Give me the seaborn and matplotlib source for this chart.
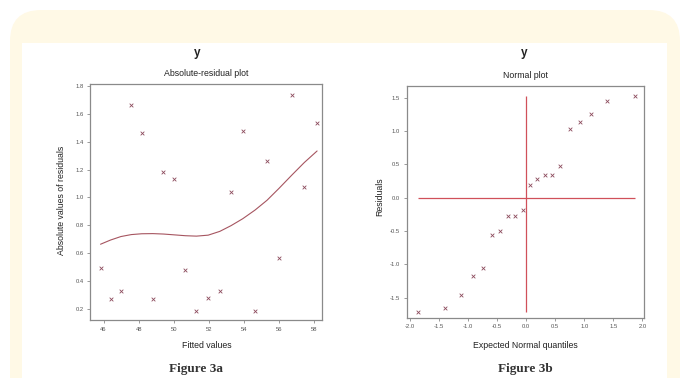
import matplotlib
matplotlib.use("Agg")
import matplotlib.pyplot as plt
import seaborn as sns
import pandas as pd
from matplotlib.patches import FancyBboxPatch, Rectangle

# ---- data ----
fitted = [45.83, 46.40, 46.99, 47.58, 48.18, 48.81, 49.41, 50.04, 50.66, 51.29,
          51.96, 52.62, 53.26, 53.93, 54.63, 55.31, 55.99, 56.72, 57.43, 58.16]
abs_resid = [0.498, 0.272, 0.331, 1.665, 1.462, 0.276, 1.185, 1.135, 0.483, 0.186,
             0.279, 0.333, 1.038, 1.478, 0.188, 1.264, 0.565, 1.736, 1.073, 1.531]
smooth = [0.665, 0.695, 0.720, 0.734, 0.740, 0.741, 0.738, 0.732, 0.726, 0.723,
          0.730, 0.757, 0.798, 0.848, 0.910, 0.980, 1.065, 1.160, 1.250, 1.333]

quantiles = [-1.87, -1.40, -1.12, -0.92, -0.75, -0.59, -0.45, -0.32, -0.19, -0.06,
             0.06, 0.19, 0.32, 0.45, 0.59, 0.75, 0.92, 1.12, 1.40, 1.87]
residuals = [-1.72, -1.65, -1.46, -1.17, -1.06, -0.555, -0.495, -0.27, -0.27, -0.18,
             0.19, 0.28, 0.34, 0.34, 0.48, 1.03, 1.13, 1.26, 1.45, 1.52]

left_xticks = [46, 48, 50, 52, 54, 56, 58]
left_yticks = [0.2, 0.4, 0.6, 0.8, 1.0, 1.2, 1.4, 1.6, 1.8]
right_xticks = [-2.0, -1.5, -1.0, -0.5, 0.0, 0.5, 1.0, 1.5, 2.0]
right_yticks = [-1.5, -1.0, -0.5, 0.0, 0.5, 1.0, 1.5]

df_a = pd.DataFrame({"fitted": fitted, "absres": abs_resid, "smooth": smooth})
df_b = pd.DataFrame({"q": quantiles, "r": residuals})

sns.set_theme(style="white")
plt.rcParams["font.family"] = ["Liberation Sans", "DejaVu Sans"]

W, H = 690, 378
fig = plt.figure(figsize=(W / 100, H / 100), dpi=100)
fig.patch.set_facecolor("white")

# cream rounded background and white inner panel
cream = "#FFF9E6"
fig.patches.append(FancyBboxPatch((10 / W, -0.2), 670 / W, 1.2 - 10 / H,
                                  boxstyle="round,pad=0,rounding_size=0.045",
                                  transform=fig.transFigure, facecolor=cream,
                                  edgecolor="none", zorder=-10,
                                  mutation_aspect=W / H))
fig.patches.append(Rectangle((22 / W, 0), (667 - 22) / W, 1 - 43 / H,
                             transform=fig.transFigure, facecolor="white",
                             edgecolor="none", zorder=-9))

def fx(px):
    return px / W

def fy(py):
    return 1 - py / H

ax1 = fig.add_axes([fx(90), fy(320.3), fx(322) - fx(90), fy(83.7) - fy(320.3)])
ax2 = fig.add_axes([fx(406.5), fy(317.7), fx(643.5) - fx(406.5), fy(85.7) - fy(317.7)])

mcol = "#8C4A5C"
sns.scatterplot(data=df_a, x="fitted", y="absres", marker="x", s=7, color=mcol,
                linewidth=0.6, ax=ax1, zorder=3)
sns.lineplot(data=df_a, x="fitted", y="smooth", color="#A65560", linewidth=0.8,
             ax=ax1, zorder=2)

sns.scatterplot(data=df_b, x="q", y="r", marker="x", s=7, color=mcol,
                linewidth=0.6, ax=ax2, zorder=3)
ax2.hlines(0, min(quantiles), max(quantiles), color="#D0505A", linewidth=0.9, zorder=2)
ax2.vlines(0, min(residuals), max(residuals), color="#D0505A", linewidth=0.9, zorder=2)

ax1.set_xlim(45.23, 58.44)
ax1.set_ylim(0.12, 1.815)
ax1.set_xticks(left_xticks)
ax1.set_xticklabels([str(t) for t in left_xticks])
ax1.set_yticks(left_yticks)
ax1.set_yticklabels([f"{t:.1f}" for t in left_yticks])

ax2.set_xlim(-2.06, 2.02)
ax2.set_ylim(-1.80, 1.68)
ax2.set_xticks(right_xticks)
ax2.set_xticklabels([f"{t:.1f}" for t in right_xticks])
ax2.set_yticks(right_yticks)
ax2.set_yticklabels([f"{t:.1f}" for t in right_yticks])

for ax in (ax1, ax2):
    ax.set_facecolor("white")
    for s in ax.spines.values():
        s.set_color("#8a8a8a")
        s.set_linewidth(0.9)
    ax.tick_params(axis="both", which="both", length=2.5, width=0.6, color="#8a8a8a",
                   labelsize=4.2, labelcolor="#555555", pad=2,
                   bottom=True, left=True, direction="out")
    ax.set_xlabel("")
    ax.set_ylabel("")
    ax.grid(False)

# titles and labels (figure coordinates)
tc = "#222222"
fig.text(fx(197), fy(53), "y", ha="center", va="center", fontsize=8.5,
         fontweight="bold", color=tc)
fig.text(fx(524), fy(53), "y", ha="center", va="center", fontsize=8.5,
         fontweight="bold", color=tc)
fig.text(fx(206), fy(74), "Absolute-residual plot", ha="center", va="center",
         fontsize=6.3, color=tc)
fig.text(fx(525), fy(75), "Normal plot", ha="center", va="center", fontsize=6.3, color=tc)
fig.text(fx(207), fy(345), "Fitted values", ha="center", va="center", fontsize=6.3, color=tc)
fig.text(fx(525), fy(345), "Expected Normal quantiles", ha="center", va="center",
         fontsize=6.3, color=tc)
fig.text(fx(61), fy(200), "Absolute values of residuals", ha="center", va="center",
         rotation=90, fontsize=6.3, color=tc)
fig.text(fx(380), fy(197), "Residuals", ha="center", va="center",
         rotation=90, fontsize=6.3, color=tc)

fig.text(fx(196), fy(369), "Figure 3a", ha="center", va="center", fontsize=9.5,
         fontweight="bold", color="#333333", family=["Liberation Serif", "DejaVu Serif"])
fig.text(fx(525), fy(369), "Figure 3b", ha="center", va="center", fontsize=9.5,
         fontweight="bold", color="#333333", family=["Liberation Serif", "DejaVu Serif"])

fig.savefig("out.png", dpi=100)
